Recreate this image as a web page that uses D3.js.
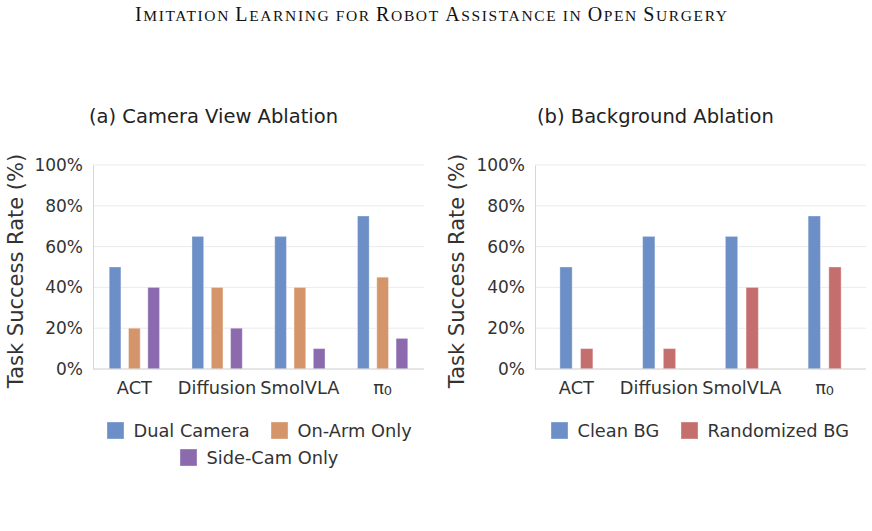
<!DOCTYPE html>
<html>
<head>
<meta charset="utf-8">
<script src="https://cdn.jsdelivr.net/npm/d3@7"></script>
<style>
  body { margin: 0; background: #fff; }
  text { font-family: "DejaVu Sans", sans-serif; fill: #333; }
</style>
</head>
<body>
<div id="chart"></div>
<script>
// Chart data
let methods = ["ACT", "Diffusion", "SmolVLA", "π0"];
let camera_series = ["Dual Camera", "On-Arm Only", "Side-Cam Only"];
let dual_camera = [50, 65, 65, 75];
let on_arm_only = [20, 40, 40, 45];
let side_cam_only = [40, 20, 10, 15];
let bg_series = ["Clean BG", "Randomized BG"];
let clean_bg = [50, 65, 65, 75];
let randomized_bg = [10, 10, 40, 50];
let y_ticks = [0, 20, 40, 60, 80, 100];
let header_words = ["Imitation", "Learning", "for", "Robot", "Assistance", "in", "Open", "Surgery"];

let camera_colors = ["#6b8fc6", "#d5956a", "#8b6aae"];
let bg_colors = ["#6b8fc6", "#c56e6e"];

let width = 872;
let height = 531;

let svg = d3.select("#chart")
            .append("svg")
              .attr("width", width)
              .attr("height", height);

// Running header, small caps built by hand
let header = svg.append("text")
                .attr("x", 135)
                .attr("y", 20.5)
                .attr("textLength", 592)
                .attr("lengthAdjust", "spacing")
                .style("font-family", "'Liberation Serif', 'DejaVu Serif', serif")
                .style("fill", "#111");

header_words.forEach(function(w, i) {
  let first = w[0];
  let big = first === first.toUpperCase();
  if (i > 0) header.append("tspan").style("font-size", "15px").text(" ");
  if (big) {
    header.append("tspan").style("font-size", "20px").text(first);
    header.append("tspan").style("font-size", "15.5px").text(w.slice(1).toUpperCase());
  } else {
    header.append("tspan").style("font-size", "15.5px").text(w.toUpperCase());
  }
});

/**
 * Draws one grouped bar panel.
 *
 * @param  opts {object}  position, series names, values and colours
 */
function draw_panel(opts) {

  let x0 = d3.scaleBand()
             .domain(methods)
             .range([opts.left, opts.right])
             .padding(0);

  let n = opts.series.length;
  let span = opts.step * (n - opts.pad);
  let x1 = d3.scaleBand()
             .domain(d3.range(n))
             .range([-span / 2, span / 2])
             .paddingInner(opts.pad)
             .paddingOuter(0);

  let y = d3.scaleLinear()
            .domain([0, 100])
            .range([369, 165]);

  let g = svg.append("g");

  // Grid lines
  g.selectAll(".grid")
   .data(y_ticks)
   .enter().append("line")
     .attr("x1", opts.left)
     .attr("x2", opts.right)
     .attr("y1", d => y(d))
     .attr("y2", d => y(d))
     .attr("stroke", "#ebebeb")
     .attr("stroke-width", 1);

  // Y axis via d3.axisLeft, restyled
  let yAxis = g.append("g")
               .attr("transform", "translate(" + opts.left + ",0)")
               .call(d3.axisLeft(y).tickValues(y_ticks).tickSize(0).tickPadding(10)
                       .tickFormat(d => d + "%"));
  yAxis.select(".domain").attr("stroke", "#d6d6d6");
  yAxis.selectAll("text")
       .style("font-size", "17px")
       .style("font-family", "'DejaVu Sans', sans-serif")
       .attr("fill", "#333");

  // Bars
  let groups = g.selectAll(".grp")
                .data(methods)
                .enter().append("g")
                  .attr("transform", d => "translate(" + (x0(d) + x0.bandwidth() / 2) + ",0)");

  groups.selectAll("rect")
        .data((d, i) => opts.values.map((vals, k) => ({k: k, v: vals[i]})))
        .enter().append("rect")
          .attr("x", d => x1(d.k))
          .attr("width", x1.bandwidth())
          .attr("y", d => y(d.v))
          .attr("height", d => y(0) - y(d.v))
          .attr("fill", d => opts.colors[d.k])
          .attr("stroke", "rgba(255,255,255,0.35)")
          .attr("stroke-width", 1);

  // Bottom spine
  g.append("line")
   .attr("x1", opts.left)
   .attr("x2", opts.right)
   .attr("y1", y(0))
   .attr("y2", y(0))
   .attr("stroke", "#d6d6d6");

  // X axis labels
  let xl = g.selectAll(".xl")
            .data(methods)
            .enter().append("text")
              .attr("x", d => x0(d) + x0.bandwidth() / 2)
              .attr("y", 394)
              .attr("text-anchor", "middle")
              .style("font-size", "17.8px");
  xl.each(function(d) {
    let t = d3.select(this);
    if (d === "π0") {
      t.append("tspan").text("π");
      t.append("tspan").text("0").style("font-size", "13px").attr("dy", 1);
    } else {
      t.text(d);
    }
  });

  // Y axis title
  svg.append("text")
     .attr("transform", "translate(" + opts.ylab_x + ",271) rotate(-90)")
     .attr("text-anchor", "middle")
     .style("font-size", "21px")
     .text("Task Success Rate (%)");

  // Panel title
  svg.append("text")
     .attr("x", opts.title_x)
     .attr("y", 123)
     .style("font-size", "19.5px")
     .style("fill", "#222")
     .text(opts.title);

  // Legend
  let leg = svg.selectAll(null)
               .data(opts.legend)
               .enter().append("g")
                 .attr("transform", d => "translate(" + d.x + "," + d.y + ")");
  leg.append("rect")
     .attr("width", 17)
     .attr("height", 17)
     .attr("fill", (d, i) => opts.colors[i])
     .attr("stroke", "rgba(255,255,255,0.35)");
  leg.append("text")
     .attr("x", 26.5)
     .attr("y", 15)
     .style("font-size", "17.8px")
     .text((d, i) => opts.series[i]);
}

draw_panel({
  left: 93, right: 424, step: 19.3, pad: 0.394,
  series: camera_series,
  values: [dual_camera, on_arm_only, side_cam_only],
  colors: camera_colors,
  title: "(a) Camera View Ablation", title_x: 89,
  ylab_x: 23,
  legend: [{x: 107, y: 422}, {x: 271, y: 422}, {x: 180, y: 449}]
});

draw_panel({
  left: 535, right: 866, step: 20.7, pad: 0.406,
  series: bg_series,
  values: [clean_bg, randomized_bg],
  colors: bg_colors,
  title: "(b) Background Ablation", title_x: 537,
  ylab_x: 464,
  legend: [{x: 551, y: 422}, {x: 681, y: 422}]
});
</script>
</body>
</html>
